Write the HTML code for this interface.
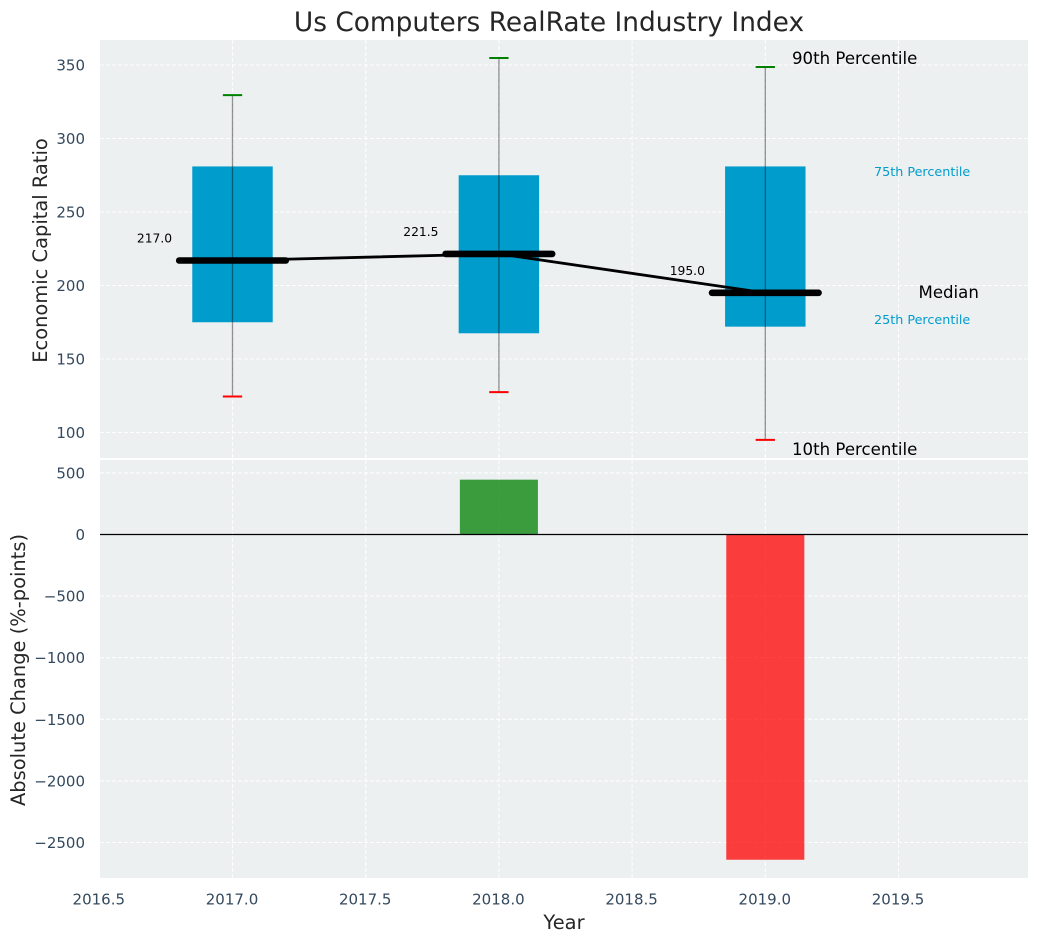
<!DOCTYPE html>
<html>
<head>
<meta charset="utf-8">
<title>Us Computers RealRate Industry Index</title>
<style>
html,body{margin:0;padding:0;background:#fff;}
svg{display:block;font-family:"DejaVu Sans","Liberation Sans",sans-serif;}
</style>
</head>
<body>
<svg id="chart" xmlns="http://www.w3.org/2000/svg" width="1039" height="942" viewBox="0 0 1039 942">
  <rect width="1039" height="942" fill="#fff"/>
  <text x="549" y="31" font-size="26.4" fill="#262626" text-anchor="middle">Us Computers RealRate Industry Index</text>
  <text transform="translate(47 250.5) rotate(-90)" font-size="19.44" fill="#262626" text-anchor="middle">Economic Capital Ratio</text>
  <text transform="translate(25 670) rotate(-90)" font-size="19.44" fill="#262626" text-anchor="middle">Absolute Change (%-points)</text>
  <text x="564" y="929" font-size="19.44" fill="#262626" text-anchor="middle">Year</text>
  <g id="top-panel"></g>
  <g id="bottom-panel"></g>
</svg>
<script>
const years = [2017, 2018, 2019];
const p90 = [329.5, 354.8, 348.6];
const p75 = [281, 275, 281];
const medians = [217, 221.5, 195];
const p25 = [175, 167.5, 172];
const p10 = [124.5, 127.5, 95];
const changes = [0, 445, -2640];
const xTicks = [2016.5, 2017, 2017.5, 2018, 2018.5, 2019, 2019.5];
const xTickLabels = ['2016.5', '2017.0', '2017.5', '2018.0', '2018.5', '2019.0', '2019.5'];
const topTicks = [100, 150, 200, 250, 300, 350];
const bottomTicks = [500, 0, -500, -1000, -1500, -2000, -2500];

const PLOT_LEFT = 100, PLOT_RIGHT = 1028;
const TOP_START = 40, TOP_END = 458, BOTTOM_START = 460, BOTTOM_END = 878;
const NS = 'http://www.w3.org/2000/svg';

function x(v) { return 232.5 + (v - 2017) * 266.4; }
function yTop(v) { return 432.5 - (v - 100) * 1.47; }
function yBottom(v) { return 534.5 - v * 0.1232; }

function make(parent, tag, attrs, content) {
  const el = document.createElementNS(NS, tag);
  for (const k in attrs) el.setAttribute(k, attrs[k]);
  if (content !== undefined) el.textContent = content;
  parent.appendChild(el);
  return el;
}
function fmtTick(v) { return v < 0 ? '\u2212' + Math.abs(v) : String(v); }

const topPanel = document.getElementById('top-panel');
const bottomPanel = document.getElementById('bottom-panel');

let node;
node = make(topPanel, 'rect', {x: PLOT_LEFT, y: TOP_START, width: PLOT_RIGHT - PLOT_LEFT, height: TOP_END - TOP_START, fill: '#ecf0f1'});


node = make(bottomPanel, 'rect', {x: PLOT_LEFT, y: BOTTOM_START, width: PLOT_RIGHT - PLOT_LEFT, height: BOTTOM_END - BOTTOM_START, fill: '#ecf0f1'});



const gridStyle = {stroke: '#fff', 'stroke-width': 1.1, 'stroke-dasharray': '4 2', opacity: 0.9};

xTicks.forEach(function (t, i) {
  const px = x(t);
  let g = make(topPanel, 'line', Object.assign({x1: px, x2: px, y1: TOP_START, y2: TOP_END}, gridStyle));
  
  
  g = make(bottomPanel, 'line', Object.assign({x1: px, x2: px, y1: BOTTOM_START, y2: BOTTOM_END}, gridStyle));
  
  
  const label = make(bottomPanel, 'text', {x: px - 0.5, y: 904.5, 'font-size': 15, fill: '#34495e', 'text-anchor': 'middle'}, xTickLabels[i]);
  
  
});

topTicks.forEach(function (t) {
  const py = yTop(t);
  const g = make(topPanel, 'line', Object.assign({x1: PLOT_LEFT, x2: PLOT_RIGHT, y1: py, y2: py}, gridStyle));
  
  
  const label = make(topPanel, 'text', {x: 85, y: py + 5.5, 'font-size': 15, fill: '#34495e', 'text-anchor': 'end'}, fmtTick(t));
  
  
});

bottomTicks.forEach(function (t) {
  const py = yBottom(t);
  const g = make(bottomPanel, 'line', Object.assign({x1: PLOT_LEFT, x2: PLOT_RIGHT, y1: py, y2: py}, gridStyle));
  
  
  const label = make(bottomPanel, 'text', {x: 85, y: py + 5.5, 'font-size': 15, fill: '#34495e', 'text-anchor': 'end'}, fmtTick(t));
  
  
});

const BOX_WIDTH = 0.302, CAP_WIDTH = 0.0725, MEDIAN_WIDTH = 0.4, BAR_WIDTH = 0.293;

years.forEach(function (yr, i) {
  const box = make(topPanel, 'rect', {
    x: x(yr - BOX_WIDTH / 2),
    y: yTop(p75[i]),
    width: x(yr + BOX_WIDTH / 2) - x(yr - BOX_WIDTH / 2),
    height: yTop(p25[i]) - yTop(p75[i]),
    fill: '#009ccc'
  });
  
  
});

const trend = make(topPanel, 'polyline', {
  points: years.map(function (yr, i) { return x(yr) + ',' + yTop(medians[i]); }).join(' '),
  fill: 'none', stroke: '#000', 'stroke-width': 2.8
});



years.forEach(function (yr, i) {
  const cx = x(yr);
  const whisker = make(topPanel, 'line', {x1: cx, x2: cx, y1: yTop(p90[i]), y2: yTop(p10[i]), stroke: '#000', 'stroke-width': 1.3, 'stroke-opacity': 0.42});
  
  

  const capHigh = make(topPanel, 'line', {x1: x(yr - CAP_WIDTH / 2), x2: x(yr + CAP_WIDTH / 2), y1: yTop(p90[i]), y2: yTop(p90[i]), stroke: '#008000', 'stroke-width': 2});
  
  

  const capLow = make(topPanel, 'line', {x1: x(yr - CAP_WIDTH / 2), x2: x(yr + CAP_WIDTH / 2), y1: yTop(p10[i]), y2: yTop(p10[i]), stroke: '#ff0000', 'stroke-width': 2});
  
  

  const med = make(topPanel, 'line', {x1: x(yr - MEDIAN_WIDTH / 2), x2: x(yr + MEDIAN_WIDTH / 2), y1: yTop(medians[i]), y2: yTop(medians[i]), stroke: '#000', 'stroke-width': 6.6, 'stroke-linecap': 'round'});
  
  

  const val = make(topPanel, 'text', {x: x(yr) - 78, y: yTop(medians[i]) - 18, 'font-size': 12.3, fill: '#000', 'text-anchor': 'middle'}, medians[i].toFixed(1));
  
  

  const v = changes[i];
  const bar = make(bottomPanel, 'rect', {
    x: x(yr - BAR_WIDTH / 2),
    y: Math.min(yBottom(v), yBottom(0)),
    width: x(yr + BAR_WIDTH / 2) - x(yr - BAR_WIDTH / 2),
    height: Math.abs(yBottom(v) - yBottom(0)),
    fill: v >= 0 ? '#008000' : '#ff0000',
    'fill-opacity': 0.75
  });
  
  
});

const zeroLine = make(bottomPanel, 'line', {x1: PLOT_LEFT, x2: PLOT_RIGHT, y1: yBottom(0), y2: yBottom(0), stroke: '#000', 'stroke-width': 1.2});



let note;
note = make(topPanel, 'text', {x: 792, y: 64, 'font-size': 16.6, fill: '#000'}, '90th Percentile');


note = make(topPanel, 'text', {x: 792, y: 455, 'font-size': 16.6, fill: '#000'}, '10th Percentile');


note = make(topPanel, 'text', {x: 918.5, y: 298, 'font-size': 16.6, fill: '#000'}, 'Median');


note = make(topPanel, 'text', {x: 874, y: 176, 'font-size': 12.75, fill: '#009ccc'}, '75th Percentile');


note = make(topPanel, 'text', {x: 874, y: 324, 'font-size': 12.75, fill: '#009ccc'}, '25th Percentile');


</script>
</body>
</html>
